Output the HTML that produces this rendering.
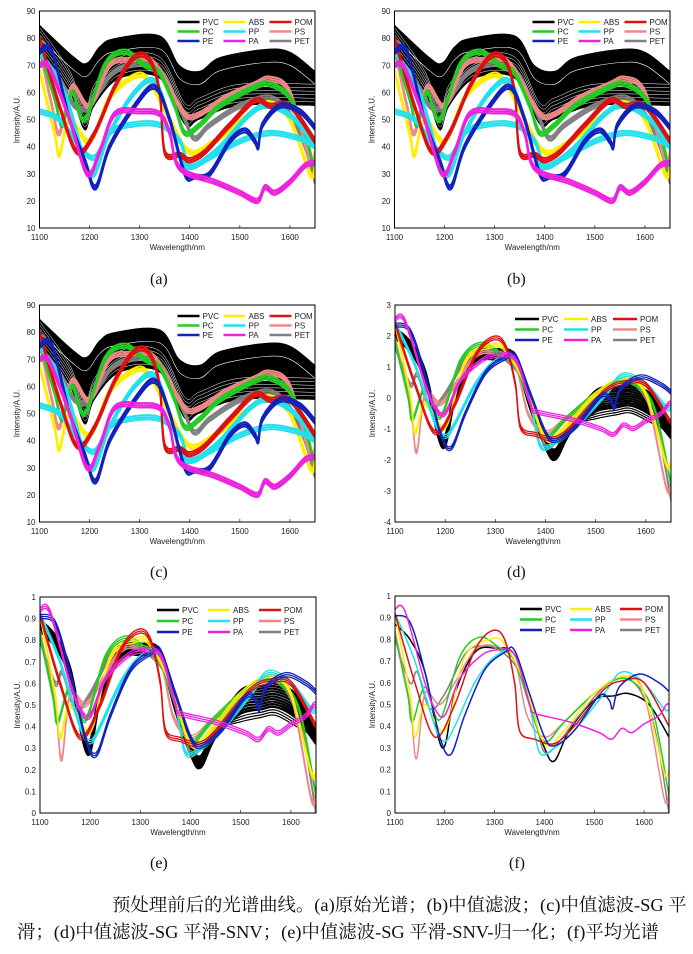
<!DOCTYPE html>
<html><head><meta charset="utf-8"><style>
body{margin:0;background:#fff;width:693px;height:954px;overflow:hidden;position:relative}
svg{position:absolute;left:0;top:0}
.cap{position:absolute;font-family:"Liberation Serif","Noto Serif CJK SC",serif;font-size:18.4px;color:#111;white-space:nowrap}
.pl{position:absolute;font-family:"Liberation Serif",serif;font-size:16px;color:#111}
</style></head><body>
<svg id="s" width="693" height="954" xmlns="http://www.w3.org/2000/svg"></svg>
<div class="pl" style="left:150px;top:271px">(a)</div>
<div class="pl" style="left:507px;top:271px">(b)</div>
<div class="pl" style="left:150px;top:564px">(c)</div>
<div class="pl" style="left:507px;top:564px">(d)</div>
<div class="pl" style="left:150px;top:855px">(e)</div>
<div class="pl" style="left:509px;top:855px">(f)</div>
<div class="cap" style="left:112px;top:891px">预处理前后的光谱曲线。(a)原始光谱；(b)中值滤波；(c)中值滤波-SG 平</div>
<div class="cap" style="left:17px;top:918px">滑；(d)中值滤波-SG 平滑-SNV；(e)中值滤波-SG 平滑-SNV-归一化；(f)平均光谱</div>
<script>
var S=document.getElementById('s'),NS='http://www.w3.org/2000/svg';
function el(t,a,txt){var e=document.createElementNS(NS,t);for(var k in a)e.setAttribute(k,a[k]);if(txt!=null)e.textContent=txt;S.appendChild(e);return e;}
var C={PVC:'#000',ABS:'#ffee00',POM:'#dd1111',PC:'#22cc22',PP:'#22e0ee',PS:'#ee8888',PE:'#1122bb',PA:'#ee22dd',PET:'#808080'};
var F={
PVC:[[1100,.87],[1130,.8],[1160,.65],[1195,.3],[1220,.55],[1260,.74],[1300,.76],[1340,.73],[1370,.5],[1400,.3],[1420,.24],[1450,.38],[1500,.52],[1540,.54],[1570,.55],[1610,.5],[1650,.35]],
ABS:[[1100,.92],[1130,.55],[1140,.35],[1160,.5],[1200,.38],[1240,.72],[1290,.8],[1320,.78],[1360,.6],[1400,.32],[1440,.38],[1500,.55],[1560,.63],[1600,.55],[1640,.19],[1650,.2]],
POM:[[1100,.92],[1140,.6],[1180,.35],[1220,.5],[1260,.75],[1295,.84],[1320,.8],[1340,.6],[1350,.38],[1380,.34],[1420,.32],[1460,.4],[1520,.57],[1560,.61],[1600,.6],[1650,.4]],
PC:[[1100,.82],[1125,.55],[1135,.42],[1160,.58],[1190,.43],[1230,.72],[1270,.81],[1310,.76],[1340,.7],[1370,.5],[1400,.33],[1440,.42],[1500,.55],[1550,.62],[1590,.58],[1620,.45],[1650,.08]],
PP:[[1100,.92],[1140,.7],[1180,.4],[1200,.33],[1220,.4],[1260,.6],[1300,.72],[1340,.73],[1370,.5],[1390,.28],[1420,.3],[1460,.38],[1520,.55],[1555,.65],[1600,.6],[1640,.48],[1650,.48]],
PS:[[1100,.84],[1130,.5],[1143,.25],[1160,.55],[1190,.5],[1220,.6],[1260,.75],[1300,.77],[1340,.7],[1365,.45],[1400,.35],[1440,.42],[1500,.55],[1560,.63],[1600,.55],[1640,.07],[1650,.1]],
PE:[[1100,.91],[1130,.88],[1160,.65],[1190,.35],[1212,.27],[1240,.45],[1280,.66],[1320,.74],[1340,.75],[1370,.55],[1400,.35],[1420,.31],[1460,.38],[1510,.54],[1530,.52],[1537,.48],[1550,.58],[1590,.64],[1630,.6],[1650,.56]],
PA:[[1100,.94],[1120,.93],[1160,.6],[1180,.48],[1200,.45],[1230,.62],[1270,.72],[1300,.75],[1340,.73],[1370,.5],[1380,.46],[1450,.42],[1510,.37],[1535,.34],[1555,.39],[1575,.37],[1600,.41],[1630,.45],[1645,.5],[1650,.5]],
PET:[[1100,.8],[1130,.6],[1145,.65],[1170,.48],[1200,.55],[1240,.73],[1270,.77],[1310,.75],[1350,.65],[1380,.45],[1400,.28],[1430,.33],[1470,.45],[1530,.6],[1580,.6],[1620,.4],[1650,0]]};
var A={
ABS:[[1100,68],[1130,45],[1140,37],[1160,50],[1200,42],[1240,58],[1290,66],[1320,64],[1360,50],[1400,38],[1450,42],[1520,52],[1560,56],[1600,50],[1640,30],[1650,32]],
POM:[[1100,80],[1140,55],[1175,38],[1210,45],[1250,62],[1290,73],[1320,72],[1340,60],[1350,38],[1380,37],[1400,35],[1430,38],[1480,48],[1530,57],[1560,55],[1600,55],[1650,42]],
PC:[[1100,76],[1130,58],[1145,48],[1165,60],[1190,50],[1230,70],[1270,75],[1310,70],[1340,67],[1370,55],[1390,45],[1420,48],[1460,55],[1530,62],[1560,63],[1600,58],[1630,45],[1650,30]],
PP:[[1100,53],[1140,50],[1180,40],[1210,36],[1240,45],[1280,48],[1340,48],[1380,42],[1400,33],[1440,36],[1500,42],[1560,45],[1620,43],[1650,40]],
PP2:[[1100,75],[1150,60],[1190,35],[1210,30],[1240,45],[1290,60],[1330,64],[1360,50],[1390,33],[1450,38],[1520,52],[1560,55],[1610,50],[1650,40]],
PS:[[1100,76],[1125,55],[1140,45],[1165,62],[1200,55],[1240,70],[1280,72],[1320,72],[1350,65],[1390,52],[1420,52],[1470,58],[1530,63],[1560,65],[1600,60],[1640,35],[1650,38]],
PE:[[1100,75],[1125,75],[1160,50],[1190,35],[1212,25],[1240,40],[1290,55],[1330,62],[1360,50],[1390,30],[1410,29],[1440,30],[1480,42],[1510,46],[1530,42],[1537,40],[1545,48],[1580,55],[1620,53],[1650,47]],
PA:[[1100,70],[1120,69],[1160,50],[1195,30],[1220,38],[1250,52],[1300,53],[1340,52],[1360,45],[1380,32],[1450,27],[1500,23],[1535,20],[1550,25],[1570,23],[1600,27],[1630,33],[1650,34]],
PET:[[1100,74],[1140,65],[1170,55],[1200,55],[1240,66],[1280,70],[1330,70],[1360,62],[1390,50],[1410,43],[1440,48],[1500,55],[1560,58],[1600,52],[1630,40],[1650,27]]};
var BT=[[1100,85],[1170,73],[1195,71],[1220,77],[1250,80],[1340,81],[1380,70],[1420,68],[1460,73],[1550,76],[1600,75],[1650,68]];
var BB=[[1100,76],[1160,60],[1190,46],[1210,55],[1260,65],[1340,65],[1390,48],[1420,50],[1500,55],[1650,55]];
function path(pts,mx,my){var p=pts.map(function(q){return [mx(q[0]),my(q[1])]});var d='M'+p[0][0].toFixed(1)+','+p[0][1].toFixed(1);
for(var i=0;i<p.length-1;i++){var p0=p[i-1]||p[i],p1=p[i],p2=p[i+1],p3=p[i+2]||p2;
d+='C'+(p1[0]+(p2[0]-p0[0])/6).toFixed(1)+','+(p1[1]+(p2[1]-p0[1])/6).toFixed(1)+' '+(p2[0]-(p3[0]-p1[0])/6).toFixed(1)+','+(p2[1]-(p3[1]-p1[1])/6).toFixed(1)+' '+p2[0].toFixed(1)+','+p2[1].toFixed(1);}return d;}
function axes(x0,x1,y0,y1,ymin,ymax,ystep,dec){
var mx=function(v){return x0+(v-1100)/550*(x1-x0)},my=function(v){return y1-(v-ymin)/(ymax-ymin)*(y1-y0)};
for(var v=1100;v<=1600;v+=100){el('text',{x:mx(v),y:y1+12,'font-size':8,'text-anchor':'middle','font-family':'Liberation Sans',fill:'#222'},v);el('line',{x1:mx(v),x2:mx(v),y1:y1,y2:y1-3,stroke:'#000','stroke-width':.6});}
for(var v=ymin;v<=ymax+1e-9;v+=ystep){var t=dec?(Math.round(v*10)/10).toString():v;el('text',{x:x0-4,y:my(v)+3,'font-size':8,'text-anchor':'end','font-family':'Liberation Sans',fill:'#222'},t);}
el('text',{x:(x0+x1)/2,y:y1+22,'font-size':8,'text-anchor':'middle','font-family':'Liberation Sans',fill:'#222'},'Wavelength/nm');
el('text',{x:0,y:0,'font-size':8,'text-anchor':'middle','font-family':'Liberation Sans',fill:'#222',transform:'translate('+(x0-20)+','+((y0+y1)/2)+') rotate(-90)'},'Intensity/A.U.');
return [mx,my];}
function box(x0,x1,y0,y1){el('rect',{x:x0,y:y0,width:x1-x0,height:y1-y0,fill:'none',stroke:'#000','stroke-width':1});}
function legend(lx,ly,cw,rh,ll){var n=['PVC','ABS','POM','PC','PP','PS','PE','PA','PET'];
n.forEach(function(k,i){var c=i%3,r=Math.floor(i/3),x=lx+c*cw,y=ly+r*rh;el('line',{x1:x,x2:x+ll,y1:y,y2:y,stroke:C[k],'stroke-width':2.5});
el('text',{x:x+ll+3,y:y+3,'font-size':8,'font-family':'Liberation Sans',fill:'#222'},k);});}
function clip(id,x0,x1,y0,y1){var cp=el('clipPath',{id:id});var r=document.createElementNS(NS,'rect');r.setAttribute('x',x0);r.setAttribute('y',y0);r.setAttribute('width',x1-x0);r.setAttribute('height',y1-y0);cp.appendChild(r);}
function raw(x0,x1,y0,y1,id){var m=axes(x0,x1,y0,y1,10,90,10,false),mx=m[0],my=m[1];clip(id,x0,x1,y0,y1);
var g=el('g',{'clip-path':'url(#'+id+')'});function add(d,col,w){var p=document.createElementNS(NS,'path');p.setAttribute('d',d);p.setAttribute('fill',col==null?'none':col);if(w){p.setAttribute('stroke',w[0]);p.setAttribute('stroke-width',w[1]);}g.appendChild(p);}
var top=path(BT,mx,my),bot=path(BB.slice().reverse(),mx,my);add(top+'L'+bot.slice(1)+'Z','#000');
for(var i=0;i<6;i++){add(path(BB.map(function(q){return [q[0],q[1]+1.5+i*1.3]}),mx,my),null,['#fff',.5]);}
add(path(BT.map(function(q){return [q[0],q[1]-5]}),mx,my),null,['#fff',.6]);
['PET','PS','PC','ABS','PP','PP2','POM','PE','PA'].forEach(function(k){var col=C[k.replace('2','')];
for(var j=0;j<3;j++)add(path(A[k].map(function(q){return [q[0],q[1]+j*0.8-0.8]}),mx,my),null,[col,2]);});
box(x0,x1,y0,y1);legend(x0+138,y0+11,46,9.5,22);}
raw(39.5,315,11,228,'ca');raw(394.5,670,11,228,'cb');raw(39.5,315,305,522,'cc');
function norm(x0,x1,y0,y1,id,mode){var d=mode=='d';var m=d?axes(x0,x1,y0,y1,-4,3,1,false):axes(x0,x1,y0,y1,0,1,0.1,true),mx=m[0],my=m[1];clip(id,x0,x1,y0,y1);
var g=el('g',{'clip-path':'url(#'+id+')'});function tf(v){return d?6.2*(v-0.53):v;}
function add(pts,col,w){var p=document.createElementNS(NS,'path');p.setAttribute('d',path(pts.map(function(q){return [q[0],tf(q[1])]}),mx,my));p.setAttribute('fill','none');p.setAttribute('stroke',col);p.setAttribute('stroke-width',w);g.appendChild(p);}
var ord=['PVC','PET','PS','PC','ABS','PP','POM','PE','PA'];
if(mode=='f'){ord.forEach(function(k){add(F[k],C[k],1.5);});}
else{for(var i=0;i<10;i++)add(F.PVC.map(function(q){var s=(q[0]>1460&&q[0]<1640)?(i-5)*0.012:(i-5)*0.006;return [q[0],q[1]+s]}),'#000',2.2);
for(var i=0;i<5;i++)add(F.PVC.map(function(q){return [q[0],q[1]+(q[0]>1470&&q[0]<1620?-0.05-i*0.012:0)]}),'#000',1.2);
ord.slice(1).forEach(function(k){for(var j=0;j<3;j++)add(F[k].map(function(q){return [q[0],q[1]+(j-1)*0.01]}),C[k],1.3);});}
box(x0,x1,y0,y1);
if(mode=='d')legend(x0+120,y0+14,49,10.5,24);else if(mode=='e')legend(x0+117,y0+13,51,11,22);else legend(x0+125,y0+13,50,10.5,22);}
norm(395,671,305,522,'cd','d');norm(40,316,597,813,'ce','e');norm(395,669,596,813,'cf','f');
</script>
</body></html>
